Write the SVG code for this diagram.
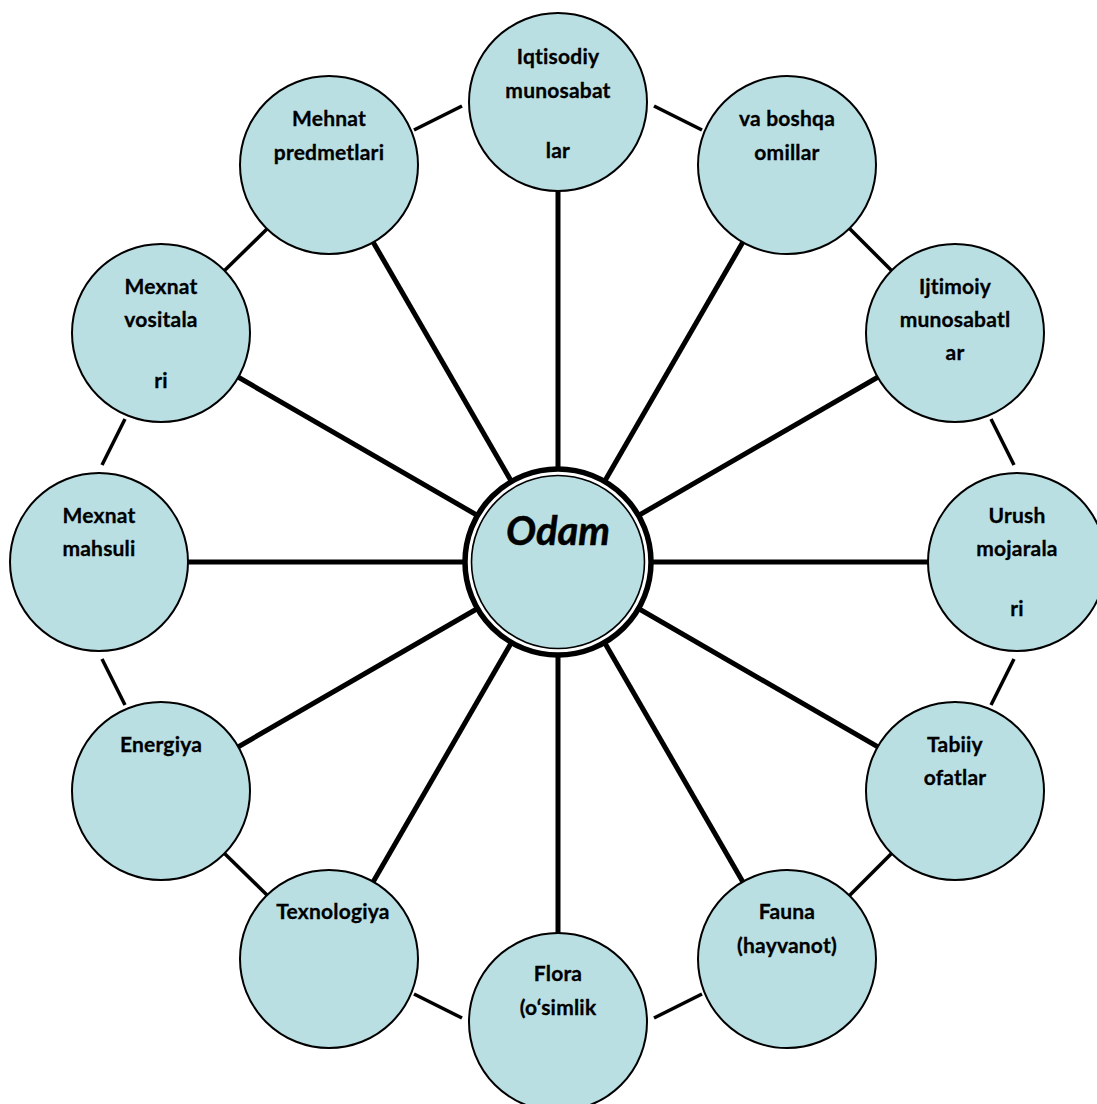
<svg xmlns="http://www.w3.org/2000/svg" width="1097" height="1104" viewBox="0 0 1097 1104">
<style>
.n{fill:#B9DFE3;stroke:#000;stroke-width:2}
.sp{stroke:#000;stroke-width:5;stroke-linecap:butt}
.lk{stroke:#000;stroke-width:3.5}
.t{font-family:Lato,"Liberation Sans",sans-serif;font-weight:bold;font-size:21px;text-anchor:middle;fill:#000;font-variant-ligatures:none;font-feature-settings:"liga" 0,"clig" 0,"dlig" 0,"calt" 0;letter-spacing:0.2px;stroke:#000;stroke-width:0.3}
.c{font-family:Lato,"Liberation Sans",sans-serif;font-weight:bold;font-style:italic;font-size:40px;text-anchor:middle;fill:#000;stroke:#000;stroke-width:0.5}
</style>
<rect width="1097" height="1104" fill="#fff"/>
<g id="connectors">
<line class="sp" x1="558" y1="562" x2="558" y2="102"/>
<line class="sp" x1="558" y1="562" x2="788" y2="164"/>
<line class="sp" x1="558" y1="562" x2="956" y2="332"/>
<line class="sp" x1="558" y1="562" x2="1018" y2="562"/>
<line class="sp" x1="558" y1="562" x2="956" y2="792"/>
<line class="sp" x1="558" y1="562" x2="788" y2="960"/>
<line class="sp" x1="558" y1="562" x2="558" y2="1022"/>
<line class="sp" x1="558" y1="562" x2="328" y2="960"/>
<line class="sp" x1="558" y1="562" x2="160" y2="792"/>
<line class="sp" x1="558" y1="562" x2="98" y2="562"/>
<line class="sp" x1="558" y1="562" x2="160" y2="332"/>
<line class="sp" x1="558" y1="562" x2="328" y2="164"/>
<line class="lk" x1="414" y1="130" x2="462" y2="106"/>
<line class="lk" x1="654" y1="106" x2="702" y2="130"/>
<line class="lk" x1="848" y1="227" x2="893" y2="272"/>
<line class="lk" x1="991" y1="419" x2="1014" y2="465"/>
<line class="lk" x1="1014" y1="659" x2="991" y2="705"/>
<line class="lk" x1="893" y1="852" x2="848" y2="897"/>
<line class="lk" x1="702" y1="994" x2="654" y2="1018"/>
<line class="lk" x1="462" y1="1018" x2="414" y2="994"/>
<line class="lk" x1="268" y1="896" x2="223" y2="852"/>
<line class="lk" x1="125" y1="705" x2="102" y2="659"/>
<line class="lk" x1="102" y1="465" x2="125" y2="419"/>
<line class="lk" x1="223" y1="272" x2="268" y2="228"/>
</g>
<g id="n-iqtisodiy"><circle class="n" cx="558" cy="102" r="89"/>
<text class="t" x="558" y="64">Iqtisodiy</text><text class="t" x="558" y="98">munosabat</text><text class="t" x="558" y="158">lar</text></g>
<g id="n-omillar"><circle class="n" cx="787" cy="165" r="89"/>
<text class="t" x="787" y="126">va boshqa</text><text class="t" x="787" y="160">omillar</text></g>
<g id="n-ijtimoiy"><circle class="n" cx="955" cy="333" r="89"/>
<text class="t" x="955" y="294">Ijtimoiy</text><text class="t" x="955" y="327">munosabatl</text><text class="t" x="955" y="360">ar</text></g>
<g id="n-urush"><circle class="n" cx="1017" cy="562" r="89"/>
<text class="t" x="1017" y="523">Urush</text><text class="t" x="1017" y="556">mojarala</text><text class="t" x="1017" y="616">ri</text></g>
<g id="n-tabiiy"><circle class="n" cx="955" cy="791" r="89"/>
<text class="t" x="955" y="752">Tabiiy</text><text class="t" x="955" y="785">ofatlar</text></g>
<g id="n-fauna"><circle class="n" cx="787" cy="959" r="89"/>
<text class="t" x="787" y="919">Fauna</text><text class="t" x="787" y="953">(hayvanot)</text></g>
<g id="n-flora"><circle class="n" cx="558" cy="1022" r="89"/>
<text class="t" x="558" y="981">Flora</text><text class="t" x="558" y="1015">(o‘simlik</text></g>
<g id="n-texnologiya"><circle class="n" cx="329" cy="959" r="89"/>
<text class="t" x="333" y="919">Texnologiya</text></g>
<g id="n-energiya"><circle class="n" cx="161" cy="791" r="89"/>
<text class="t" x="161" y="752">Energiya</text></g>
<g id="n-mahsuli"><circle class="n" cx="99" cy="562" r="89"/>
<text class="t" x="99" y="523">Mexnat</text><text class="t" x="99" y="556">mahsuli</text></g>
<g id="n-vositalari"><circle class="n" cx="161" cy="333" r="89"/>
<text class="t" x="161" y="294">Mexnat</text><text class="t" x="161" y="327">vositala</text><text class="t" x="161" y="388">ri</text></g>
<g id="n-predmetlari"><circle class="n" cx="329" cy="165" r="89"/>
<text class="t" x="329" y="126">Mehnat</text><text class="t" x="329" y="160">predmetlari</text></g>
<g id="n-odam">
<circle cx="558" cy="562" r="93" fill="#fff" stroke="#000" stroke-width="5.5"/>
<circle cx="558" cy="562" r="86.5" fill="#B9DFE3" stroke="#000" stroke-width="1.6"/>
<text class="c" x="558" y="545">Odam</text>
</g>
</svg>
